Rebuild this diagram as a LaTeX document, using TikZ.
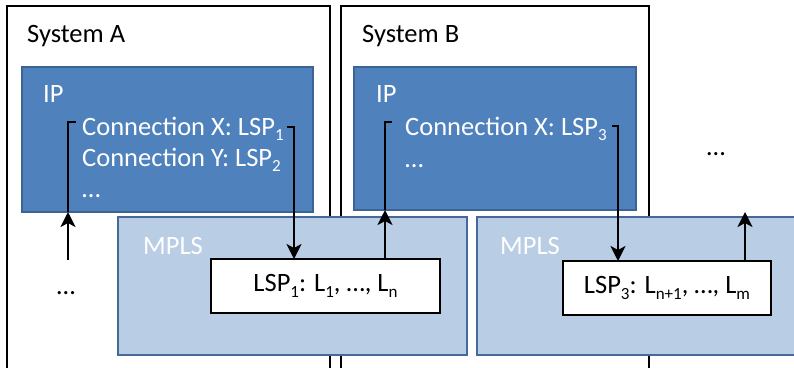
\documentclass[tikz,border=0pt]{standalone}
\usepackage{fontspec}
\setmainfont{Carlito}
\usetikzlibrary{arrows.meta,calc}
\definecolor{ipfill}{HTML}{4F81BD}
\definecolor{ipedge}{HTML}{3B6494}
\definecolor{mplsfill}{HTML}{B9CDE5}
\definecolor{mplsedge}{HTML}{45699A}
\newcommand\mainsize{\fontsize{26.5}{31}\selectfont}
\newcommand\lsub[1]{\raisebox{-0.22em}{\fontsize{17}{17}\selectfont #1}}
\begin{document}
\begin{tikzpicture}[x=1pt,y=-1pt,
  box/.style={anchor=north west, inner sep=0pt, outer sep=0pt},
  sysbox/.style={box, draw=black, line width=2.2pt},
  ipbox/.style={box, fill=ipfill, draw=ipedge, line width=1.5pt},
  mplsbox/.style={box, fill=mplsfill, draw=mplsedge, line width=1.5pt},
  lspbox/.style={box, fill=white, draw=black, line width=2.2pt, font=\mainsize},
  lbl/.style={anchor=base west, inner sep=0pt, font=\mainsize},
  wlbl/.style={lbl, text=white},
  dots/.style={anchor=base, inner sep=0pt, font=\mainsize},
  conn/.style={line width=2.6pt},
  arr/.style={conn, -{Stealth[length=15pt,width=15pt,inset=4pt]}}]
  \clip (0,0) rectangle (794,367);

  % systems (open at the bottom)
  \node[sysbox, minimum width=323pt, minimum height=400pt] (sysA) at (7,6) {};
  \node[sysbox, minimum width=308pt, minimum height=400pt] (sysB) at (341,6) {};
  \node[lbl] (tA) at (27,42) {System A};
  \node[lbl] (tB) at (362,42) {System B};

  % IP layers
  \node[ipbox, minimum width=291pt, minimum height=145pt] (ipA) at (22,67) {};
  \node[ipbox, minimum width=282pt, minimum height=143pt] (ipB) at (354,67) {};
  \node[wlbl] (ipAt) at (43,102) {IP};
  \node[wlbl] (ipBt) at (376,102) {IP};
  \node[wlbl] (cxA) at (82,135) {Connection X: LSP\lsub{1}};
  \node[wlbl] (cyA) at (82,166) {Connection Y: LSP\lsub{2}};
  \node[wlbl] (ellA) at (82,197) {…};
  \node[wlbl] (cxB) at (405,135) {Connection X: LSP\lsub{3}};
  \node[wlbl] (ellB) at (405,167) {…};

  % MPLS layers
  \node[mplsbox, minimum width=349pt, minimum height=138pt] (mplsA) at (118,217) {};
  \node[mplsbox, minimum width=330pt, minimum height=138pt] (mplsB) at (477,217) {};
  \node[wlbl] (mAt) at (143,254) {MPLS};
  \node[wlbl] (mBt) at (500,254) {MPLS};
  \node[lspbox, minimum width=229pt, minimum height=54pt] (lsp1) at (211,259)
    {LSP\lsub{1}: L\lsub{1}, …, L\lsub{n}};
  \node[lspbox, minimum width=208pt, minimum height=54pt] (lsp3) at (563,261)
    {LSP\lsub{3}: L\lsub{n+1}, …, L\lsub{m}};

  % further systems
  \node[dots] (moreA) at (66,294) {…};
  \node[dots] (moreB) at (716,155) {…};

  % connector anchor points
  \coordinate (inA) at (68,260);
  \coordinate (hookA) at (76,122);
  \coordinate (outA) at (287,127);
  \coordinate (dnA) at (294,127);
  \coordinate (upB) at (385,122);
  \coordinate (hookB) at (392,122);
  \coordinate (outB) at (612,126);
  \coordinate (dnB) at (618,126);
  \coordinate (upC) at (745,212);

  % connectors
  \draw[arr] (inA) -- (inA |- ipA.south);
  \draw[conn] (inA |- ipA.south) |- (hookA);
  \draw[arr] (outA) -- (dnA) -- (dnA |- lsp1.north);
  \draw[arr] (upB |- lsp1.north) -- (upB |- ipB.south);
  \draw[conn] (upB |- ipB.south) -- (upB) -- (hookB);
  \draw[arr] (outB) -- (dnB) -- (dnB |- lsp3.north);
  \draw[arr] (upC |- lsp3.north) -- (upC);
\end{tikzpicture}
\end{document}
